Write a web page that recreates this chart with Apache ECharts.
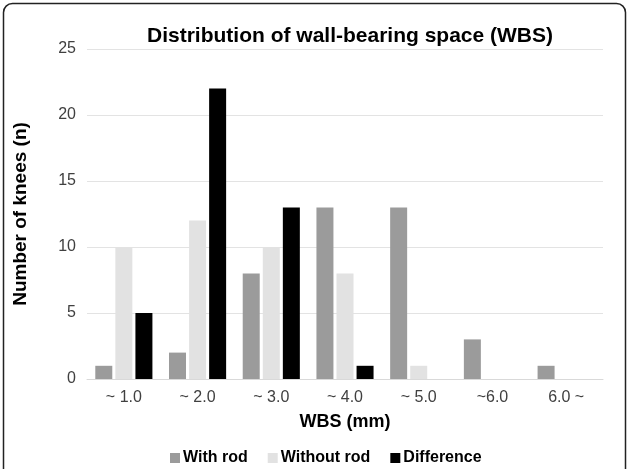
<!DOCTYPE html>
<html>
<head>
<meta charset="utf-8">
<script src="https://cdn.jsdelivr.net/npm/echarts@6/dist/echarts.min.js"></script>
<style>html,body{margin:0;padding:0;background:#fff}#c{width:627px;height:469px}</style>
</head>
<body>
<div id="c"></div>
<script>
var categories = ['~ 1.0', '~ 2.0', '~ 3.0', '~ 4.0', '~ 5.0', '~6.0', '6.0 ~'];
var withRod = [1, 2, 8, 13, 13, 3, 1];
var withoutRod = [10, 12, 10, 8, 1, null, null];
var difference = [5, 22, 13, 1, null, null, null];
var seriesNames = ['With rod', 'Without rod', 'Difference'];
var yTicks = {min: 0, max: 25, interval: 5};

var chart = echarts.init(document.getElementById('c'), null, {renderer: 'canvas'});
var font = 'Liberation Sans, Arial, sans-serif';
function bar(name, data, color) {
  return {
    name: name, type: 'bar', data: data,
    barWidth: 17, barGap: '18%',
    itemStyle: {color: color},
    emphasis: {disabled: true}
  };
}
chart.setOption({
  animation: false,
  textStyle: {fontFamily: font},
  title: {
    text: 'Distribution of wall-bearing space (WBS)',
    left: 345, top: 21, textAlign: 'center',
    textStyle: {fontFamily: font, fontSize: 21, fontWeight: 'bold', color: '#000'}
  },
  graphic: [{
    type: 'rect', silent: true,
    shape: {x: 3.5, y: 3.5, width: 622, height: 490, r: 9},
    style: {fill: 'none', stroke: '#222', lineWidth: 1.5}
  }],
  legend: {
    data: seriesNames, top: 445, left: 165,
    itemWidth: 10, itemHeight: 10, itemGap: 20,
    icon: 'rect',
    textStyle: {fontFamily: font, fontSize: 16, fontWeight: 'bold', color: '#000', padding: [0,0,0,-2]}
  },
  grid: {left: 87, right: 24, top: 49, bottom: 90},
  xAxis: {
    type: 'category', data: categories,
    name: 'WBS (mm)', nameLocation: 'middle', nameGap: 34,
    nameTextStyle: {fontFamily: font, fontSize: 18, fontWeight: 'bold', color: '#000'},
    axisLine: {lineStyle: {color: '#d9d9d9', width: 1}},
    axisTick: {show: false},
    axisLabel: {fontFamily: font, fontSize: 16, color: '#404040', margin: 11}
  },
  yAxis: {
    type: 'value', min: yTicks.min, max: yTicks.max, interval: yTicks.interval,
    name: 'Number of knees (n)', nameLocation: 'middle', nameGap: 57,
    nameTextStyle: {fontFamily: font, fontSize: 19, fontWeight: 'bold', color: '#000'},
    axisLine: {show: false}, axisTick: {show: false},
    splitLine: {lineStyle: {color: '#e3e3e3', width: 1}},
    axisLabel: {fontFamily: font, fontSize: 16, color: '#404040', margin: 11}
  },
  series: [
    bar(seriesNames[0], withRod, '#9b9b9b'),
    bar(seriesNames[1], withoutRod, '#e2e2e2'),
    bar(seriesNames[2], difference, '#000000')
  ]
});
</script>
</body>
</html>
